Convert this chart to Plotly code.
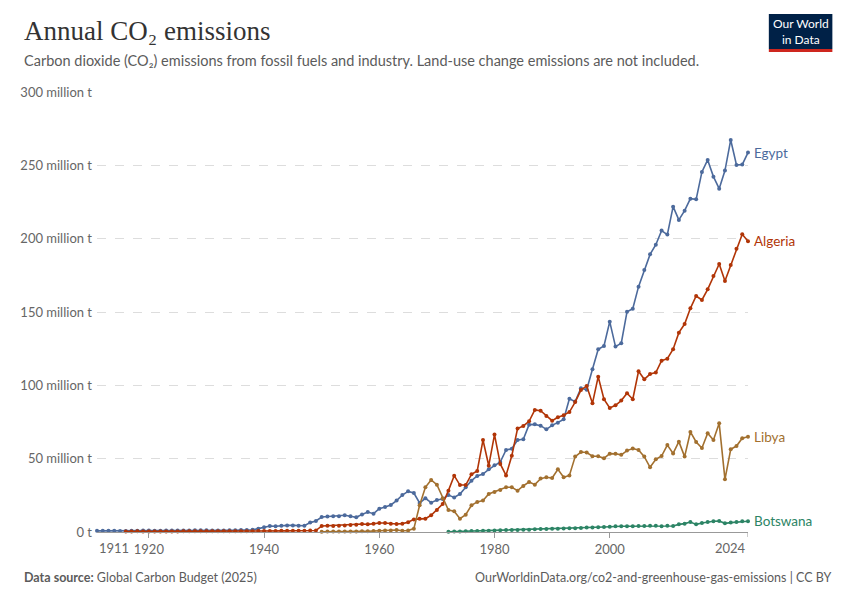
import plotly.graph_objects as go

# Annual CO2 emissions, million tonnes
egypt_years = list(range(1911, 2025))
egypt = [
    0.8, 0.8, 0.9, 0.8, 0.7, 0.7, 0.8, 0.9, 1.0, 1.0,
    0.9, 0.9, 1.0, 1.0, 1.1, 1.1, 1.1, 1.2, 1.2, 1.2,
    1.1, 1.1, 1.1, 1.2, 1.2, 1.3, 1.3, 1.5, 2.3, 3.2,
    4.1, 3.9, 4.3, 4.5, 4.5, 4.3, 4.3, 6.4, 7.5, 10.2,
    10.5, 10.7, 10.7, 11.4, 10.7, 10.0, 12.0, 13.6, 12.5, 15.9,
    17.0, 18.4, 21.4, 25.2, 27.7, 26.6, 19.8, 23.0, 20.0, 21.8,
    22.5, 25.2, 23.6, 25.9, 30.5, 35.0, 38.2, 39.5, 42.7, 45.5,
    47.7, 55.9, 56.8, 62.7, 63.2, 73.2, 73.4, 72.5, 70.0, 72.7,
    74.5, 76.8, 90.9, 88.9, 98.0, 97.0, 111.0, 124.6, 126.8, 143.4,
    126.4, 128.7, 150.2, 152.3, 167.3, 178.7, 189.3, 195.9, 205.5, 202.8,
    221.8, 212.8, 219.1, 227.3, 226.8, 245.5, 253.7, 242.3, 234.1, 246.4,
    267.3, 250.3, 250.5, 258.7,
]

algeria_years = list(range(1916, 2025))
algeria = [
    0.3, 0.3, 0.5, 0.4, 0.4, 0.4, 0.4, 0.4, 0.4, 0.4,
    0.5, 0.5, 0.5, 0.5, 0.5, 0.5, 0.5, 0.5, 0.5, 0.5,
    0.5, 0.5, 0.5, 0.6, 0.7, 0.7, 0.7, 0.8, 0.8, 0.9,
    0.9, 0.9, 1.0, 1.0, 4.1, 4.3, 4.1, 4.3, 4.5, 4.8,
    5.0, 5.5, 5.2, 5.7, 6.1, 6.1, 5.7, 5.5, 5.7, 6.6,
    8.6, 9.1, 9.1, 11.4, 15.0, 19.1, 28.2, 38.4, 32.0, 32.0,
    39.3, 41.6, 62.7, 45.2, 66.4, 46.4, 38.6, 52.0, 70.5, 72.3,
    75.5, 83.2, 82.7, 79.1, 75.9, 78.2, 79.6, 81.8, 88.6, 96.8,
    99.6, 87.7, 105.9, 90.5, 84.6, 86.4, 89.6, 94.6, 90.5, 109.6,
    104.1, 107.7, 108.7, 116.8, 118.2, 124.6, 135.9, 141.8, 152.5, 160.9,
    158.2, 165.5, 174.6, 182.7, 171.2, 182.1, 193.2, 203.0, 198.2,
]

libya_years = list(range(1950, 2025))
libya = [
    0.2, 0.3, 0.3, 0.3, 0.4, 0.4, 0.4, 0.5, 0.5, 0.6,
    0.8, 1.1, 1.1, 1.4, 0.9, 1.0, 2.3, 18.2, 30.5, 35.5,
    32.3, 23.0, 15.0, 14.1, 9.1, 11.8, 18.2, 20.5, 21.4, 25.9,
    27.3, 28.6, 30.5, 30.5, 28.2, 31.4, 34.1, 32.3, 36.4, 37.3,
    36.8, 42.7, 37.3, 38.6, 51.4, 54.5, 54.2, 51.7, 51.6, 50.2,
    53.4, 53.3, 52.6, 55.5, 56.9, 55.9, 51.4, 44.1, 49.6, 51.8,
    59.3, 53.6, 61.6, 51.4, 68.2, 61.4, 57.3, 67.3, 62.7, 74.1,
    35.9, 56.4, 58.6, 63.9, 65.0,
]

botswana_years = list(range(1972, 2025))
botswana = [
    0.2, 0.3, 0.4, 0.5, 0.6, 0.7, 0.8, 0.9, 1.0, 1.2,
    1.3, 1.3, 1.4, 1.5, 1.6, 1.8, 2.0, 2.1, 2.3, 2.3,
    2.4, 2.5, 2.6, 2.8, 3.0, 3.0, 3.2, 3.4, 3.6, 3.9,
    3.9, 3.9, 3.9, 4.1, 4.1, 4.3, 4.3, 3.9, 4.3, 4.1,
    5.2, 5.7, 6.8, 5.2, 6.1, 6.8, 7.3, 7.5, 5.9, 6.4,
    6.8, 7.3, 7.3,
]

series = [
    ("Egypt", egypt_years, egypt, "#4C6A9C", 0),
    ("Algeria", algeria_years, algeria, "#B13507", 0),
    ("Libya", libya_years, libya, "#A2702F", 0),
    ("Botswana", botswana_years, botswana, "#2C8465", 0),
]

y_ticks = [0, 50, 100, 150, 200, 250, 300]
y_labels = ["0 t", "50 million t", "100 million t", "150 million t",
            "200 million t", "250 million t", "300 million t"]
x_ticks = [1920, 1940, 1960, 1980, 2000]
x_labels = ["1920", "1940", "1960", "1980", "2000"]

FONT = "Lato, 'Open Sans', sans-serif"
GREY = "#5b5b5b"

fig = go.Figure()
annotations = []
for name, xs, ys, color, lift in series:
    fig.add_trace(go.Scatter(
        x=xs, y=ys, name=name, mode="lines+markers",
        line=dict(color=color, width=1.6),
        marker=dict(color=color, size=4),
        cliponaxis=False, hoverinfo="skip",
    ))
    # label at the end of each line
    annotations.append(dict(
        x=xs[-1], y=ys[-1], xref="x", yref="y", text=name,
        showarrow=False, xanchor="left", yanchor="middle",
        xshift=4, yshift=lift, font=dict(family=FONT, size=13.5, color=color),
    ))

# first and last year labels, pulled inside the axis ends
annotations.append(dict(x=1911, y=0, xref="x", yref="y", text="1911",
                        showarrow=False, xanchor="left", yanchor="top",
                        yshift=-6, font=dict(family=FONT, size=13, color="#666")))
annotations.append(dict(x=2024, y=0, xref="x", yref="y", text="2024",
                        showarrow=False, xanchor="right", yanchor="top",
                        yshift=-6, font=dict(family=FONT, size=13, color="#666")))

# title, subtitle, footer
annotations += [
    dict(x=-0.1159, y=1.1386, xref="paper", yref="paper",
         text="Annual CO₂ emissions", showarrow=False,
         xanchor="left", yanchor="middle",
         font=dict(family="'Liberation Serif', serif", size=27, color="#333")),
    dict(x=-0.1159, y=1.0705, xref="paper", yref="paper",
         text="Carbon dioxide (CO₂) emissions from fossil fuels and industry. "
              "Land-use change emissions are not included.",
         showarrow=False, xanchor="left", yanchor="middle",
         font=dict(family=FONT, size=14.5, color=GREY)),
    dict(x=-0.1159, y=-0.1023, xref="paper", yref="paper",
         text="<b>Data source:</b> Global Carbon Budget (2025)",
         showarrow=False, xanchor="left", yanchor="middle",
         font=dict(family=FONT, size=12.5, color=GREY)),
    dict(x=1.1311, y=-0.1023, xref="paper", yref="paper",
         text="OurWorldinData.org/co2-and-greenhouse-gas-emissions | CC BY",
         showarrow=False, xanchor="right", yanchor="middle",
         font=dict(family=FONT, size=12.5, color=GREY)),
    dict(x=1.0808, y=1.1375, xref="paper", yref="paper",
         text="Our World<br>in Data", showarrow=False,
         xanchor="center", yanchor="middle",
         font=dict(family=FONT, size=12, color="white")),
]

fig.update_layout(
    width=850, height=600,
    # the page adds an 8px body margin, so the margins are 8px smaller
    margin=dict(l=84, r=110, t=84, b=76),
    paper_bgcolor="white", plot_bgcolor="white",
    showlegend=False,
    annotations=annotations,
    shapes=[
        dict(type="rect", xref="paper", yref="paper",
             x0=1.032, x1=1.1296, y0=1.0977, y1=1.177,
             fillcolor="#002147", line=dict(width=0), layer="above"),
        dict(type="rect", xref="paper", yref="paper",
             x0=1.032, x1=1.1296, y0=1.0909, y1=1.0977,
             fillcolor="#CE261E", line=dict(width=0), layer="above"),
        # tick mark at the last year
        dict(type="line", xref="x", yref="paper", x0=2024, x1=2024,
             y0=0, y1=-0.0114, line=dict(color="#999", width=1)),
    ],
    xaxis=dict(
        range=[1911, 2024], tickvals=x_ticks, ticktext=x_labels,
        showgrid=False, zeroline=False,
        showline=True, linecolor="#999", linewidth=1,
        ticks="outside", ticklen=5, tickcolor="#999",
        tickfont=dict(family=FONT, size=13, color="#666"),
    ),
    yaxis=dict(
        range=[0, 300], tickvals=y_ticks, ticktext=y_labels,
        showgrid=True, gridcolor="#dddddd", griddash="dash", gridwidth=1,
        zeroline=False, ticks="", ticklabelstandoff=4,
        tickfont=dict(family=FONT, size=13, color="#666"),
    ),
)

fig.write_html("out.html")
